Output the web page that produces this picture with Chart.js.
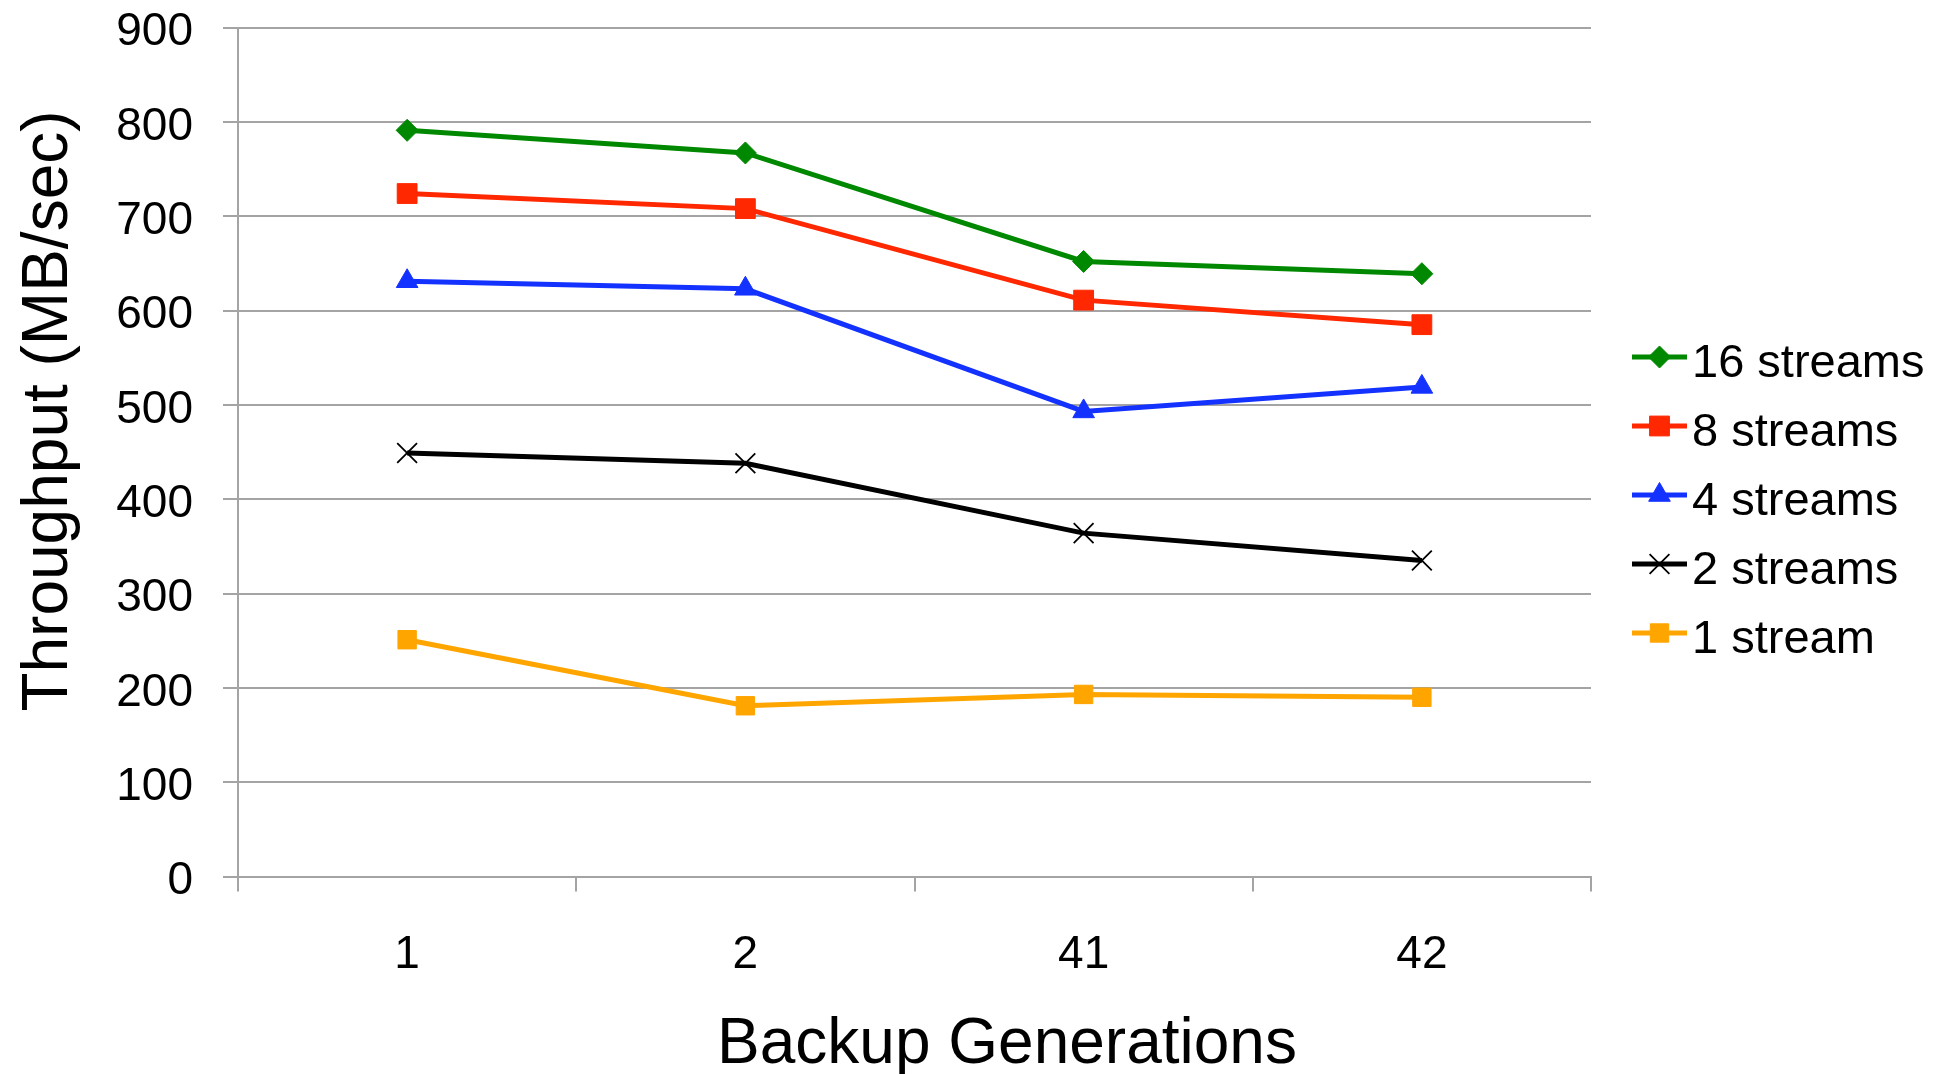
<!DOCTYPE html>
<html>
<head>
<meta charset="utf-8">
<script src="https://cdn.jsdelivr.net/npm/chart.js@4/dist/chart.umd.min.js"></script>
<style>
  html, body { margin: 0; padding: 0; background: #ffffff; }
  canvas { display: block; }
</style>
</head>
<body>
<canvas id="chart" width="1946" height="1074"></canvas>
<script>
// Throughput per backup generation, one series per stream count
const generations = ['1', '2', '41', '42'];
const streams16 = [791, 767, 652, 639];
const streams8  = [724, 708, 611, 585];
const streams4  = [631, 623, 493, 519];
const streams2  = [449, 438, 364, 335];
const streams1  = [251, 181, 193, 190];
const seriesNames = ['16 streams', '8 streams', '4 streams', '2 streams', '1 stream'];
const yTickValues = [0, 100, 200, 300, 400, 500, 600, 700, 800, 900];
const xTitle = 'Backup Generations';
const yTitle = 'Throughput (MB/sec)';

const FONT = '"Liberation Sans", Arial, Helvetica, sans-serif';
const GRID = '#a4a4a4';

function series(label, data, color, style, radius, pointBorder) {
  return {
    label: label,
    data: data,
    borderColor: color,
    backgroundColor: color,
    borderWidth: 5,
    tension: 0,
    pointStyle: style,
    pointRadius: radius,
    pointHoverRadius: radius,
    pointBackgroundColor: color,
    pointBorderColor: color,
    pointBorderWidth: pointBorder
  };
}

// Axis titles and the line-plus-marker legend to the right of the plot
const decorations = {
  id: 'decorations',
  afterDraw(chart) {
    const ctx = chart.ctx;
    const area = chart.chartArea;
    ctx.save();
    ctx.fillStyle = '#000000';
    ctx.font = '64px ' + FONT;
    ctx.textAlign = 'center';
    ctx.textBaseline = 'alphabetic';
    ctx.fillText(xTitle, 1007, 1063);
    ctx.translate(67, 411);
    ctx.rotate(-Math.PI / 2);
    ctx.fillText(yTitle, 0, 0);
    ctx.restore();

    const lineStart = area.right + 41;
    const lineEnd = lineStart + 55;
    chart.data.datasets.forEach((ds, i) => {
      const cy = 357 + i * 69;
      ctx.save();
      ctx.strokeStyle = ds.borderColor;
      ctx.lineWidth = ds.borderWidth;
      ctx.beginPath();
      ctx.moveTo(lineStart, cy);
      ctx.lineTo(lineEnd, cy);
      ctx.stroke();
      ctx.fillStyle = ds.pointBackgroundColor;
      ctx.strokeStyle = ds.pointBorderColor;
      ctx.lineWidth = ds.pointBorderWidth;
      Chart.helpers.drawPoint(ctx, {
        pointStyle: ds.pointStyle,
        radius: ds.pointRadius,
        rotation: 0,
        borderWidth: ds.pointBorderWidth
      }, (lineStart + lineEnd) / 2, cy);
      ctx.fillStyle = '#000000';
      ctx.font = '47px ' + FONT;
      ctx.textAlign = 'left';
      ctx.textBaseline = 'middle';
      ctx.fillText(ds.label, lineEnd + 5, cy + 7.5);
      ctx.restore();
    });
  }
};

new Chart(document.getElementById('chart'), {
  type: 'line',
  data: {
    labels: generations,
    datasets: [
      series(seriesNames[0], streams16, '#008800', 'rectRot', 11, 1),
      series(seriesNames[1], streams8, '#ff2800', 'rect', 14, 1),
      series(seriesNames[2], streams4, '#1432ff', 'triangle', 12.5, 1),
      series(seriesNames[3], streams2, '#000000', 'crossRot', 14, 1.8),
      series(seriesNames[4], streams1, '#ffa500', 'rect', 13, 1)
    ]
  },
  options: {
    responsive: false,
    animation: false,
    events: [],
    layout: { padding: { left: 0, right: 355, top: 27.5, bottom: 0 } },
    plugins: {
      legend: { display: false },
      tooltip: { enabled: false },
      title: { display: false }
    },
    scales: {
      x: {
        type: 'category',
        offset: true,
        afterFit(scale) {
          scale.height = 197.5;
          scale.paddingLeft = 0;
          scale.paddingRight = 0;
        },
        grid: {
          offset: true,
          drawOnChartArea: false,
          drawTicks: true,
          tickLength: 15,
          color: GRID,
          lineWidth: 2
        },
        border: { display: true, color: GRID, width: 2 },
        ticks: {
          color: '#000000',
          font: { family: FONT, size: 46 },
          padding: 36,
          maxRotation: 0
        }
      },
      y: {
        min: yTickValues[0],
        max: yTickValues[yTickValues.length - 1],
        afterFit(scale) {
          scale.width = 238;
          scale.paddingTop = 0;
          scale.paddingBottom = 0;
        },
        afterBuildTicks(scale) { scale.ticks = yTickValues.map(v => ({ value: v })); },
        grid: {
          drawTicks: true,
          tickLength: 15,
          color: GRID,
          lineWidth: 2
        },
        border: { display: true, color: GRID, width: 2 },
        ticks: {
          color: '#000000',
          font: { family: FONT, size: 46 },
          padding: 30,
          labelOffset: 5
        }
      }
    }
  },
  plugins: [decorations]
});
</script>
</body>
</html>
